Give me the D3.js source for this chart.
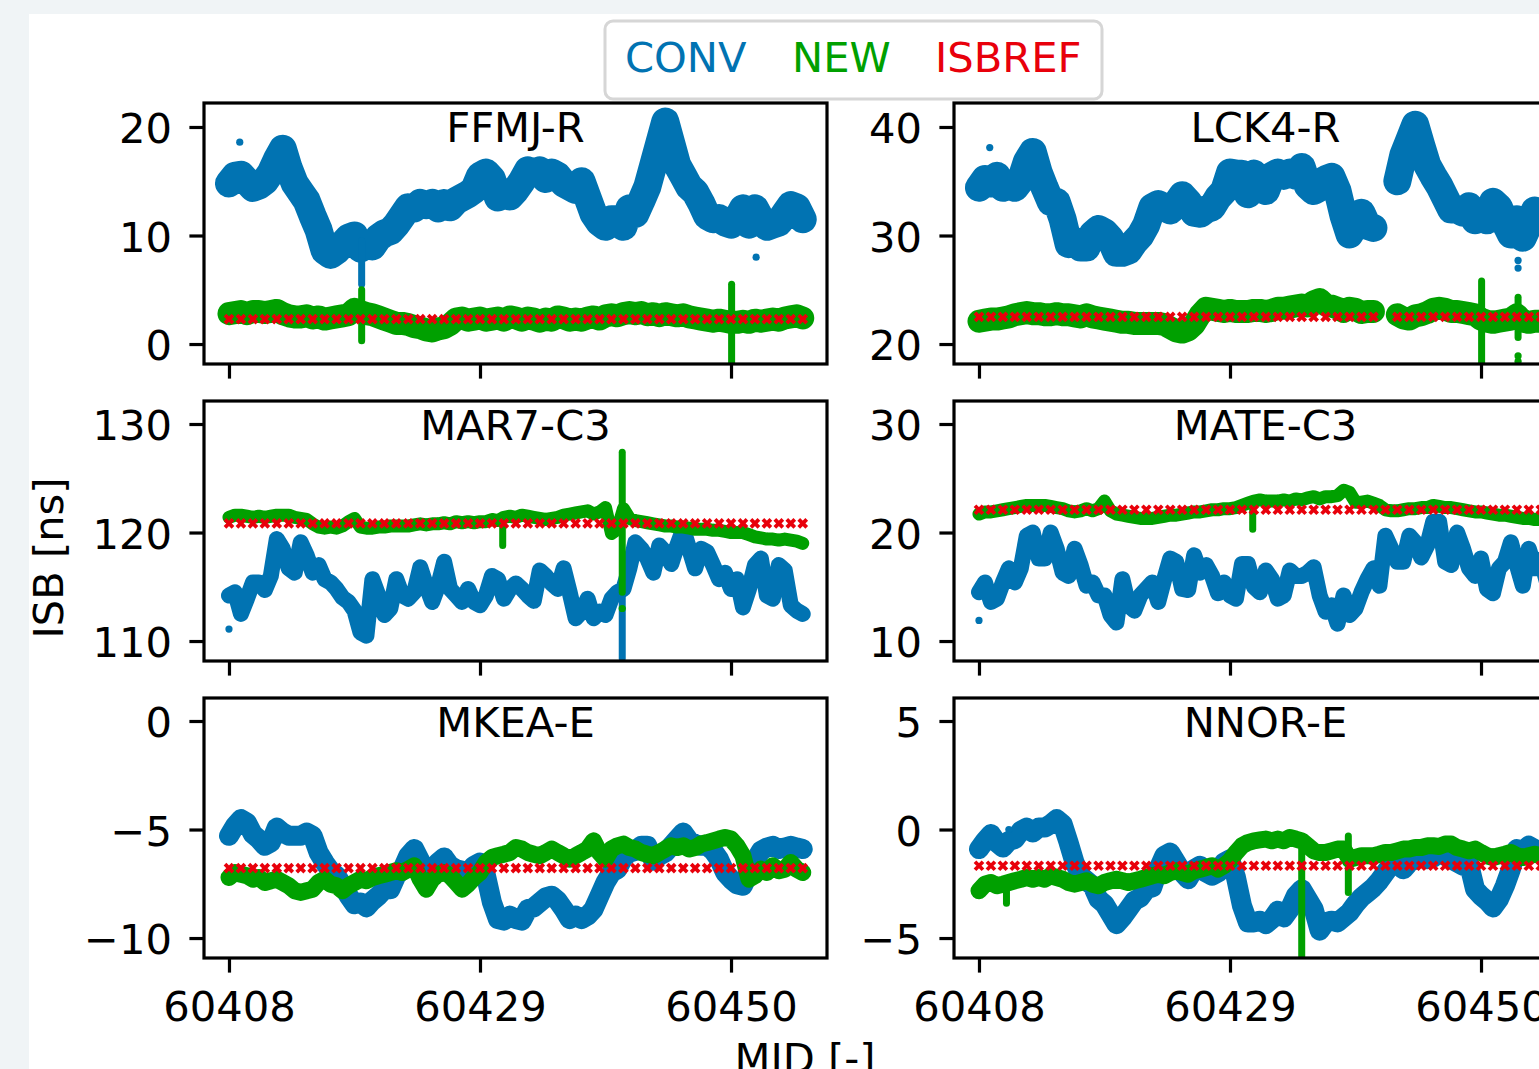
<!DOCTYPE html>
<html lang="en">
<head>
    <meta charset="UTF-8">
    <title>ISB</title>
    <script src="https://cdn.jsdelivr.net/npm/d3@7"></script>
    <style>
        body {
            margin: 0;
            background-color: #f0f4f6;
            overflow: hidden;
        }
        svg {
            display: block;
        }
        text {
            font-family: "DejaVu Sans", sans-serif;
        }
    </style>
</head>
<body>
<svg id="chart" width="1539" height="1069"></svg>
<script>
    // sample grid (MJD) of the plotted series, half a day apart
    const epochs = d3.range(60408, 60456.01, 0.5);
    // ISBREF is plotted once a day
    const refDays = d3.range(60408, 60457, 1);
    const xTicks = [60408, 60429, 60450];

    const stations = ["FFMJ-R", "LCK4-R", "MAR7-C3", "MATE-C3", "MKEA-E", "NNOR-E"];
    const seriesNames = ["CONV", "NEW", "ISBREF"];

    // ---- FFMJ-R ----
    const ffmjConv = [14.8,15.5,15.6,15.0,14.4,14.6,15.0,15.8,17.0,18.0, 16.2,14.8,14.0,13.2,11.8,10.5,8.6,8.2,8.6,9.2,
        9.8,10.0,8.8,9.3,9.0,9.8,10.2,10.4,11.0,11.8, 12.6,12.5,13.0,12.8,13.0,12.5,13.0,12.6,13.2,13.5,
        13.8,14.2,15.5,15.8,15.2,13.5,14.0,13.6,14.2,15.0, 16.0,15.8,16.0,15.2,15.8,15.5,14.8,14.5,14.2,15.0,
        13.5,12.0,11.2,10.8,11.5,11.5,10.8,12.5,12.0,13.2, 14.5,16.5,18.5,20.5,18.5,16.5,15.5,14.5,14.0,13.0,
        11.8,11.5,11.6,11.2,11.0,11.5,12.5,11.0,12.5,11.5, 10.8,11.0,11.2,12.0,12.8,12.6,11.5];
    const ffmjNew = [2.8,2.9,3.0,2.8,3.0,3.0,2.9,3.0,3.1,2.8, 2.6,2.5,2.5,2.6,2.4,2.5,2.3,2.4,2.5,2.6,
        2.7,3.2,3.0,2.8,2.7,2.5,2.3,2.1,1.9,1.9, 1.8,1.6,1.5,1.3,1.2,1.4,1.5,1.8,2.3,2.4,
        2.2,2.3,2.4,2.2,2.3,2.4,2.2,2.5,2.4,2.2, 2.4,2.3,2.1,2.3,2.2,2.5,2.4,2.2,2.3,2.2,
        2.4,2.5,2.3,2.6,2.7,2.6,2.8,2.9,2.8,2.9, 2.7,2.8,2.6,2.8,2.7,2.6,2.7,2.5,2.4,2.3,
        2.2,2.1,2.2,2.1,2.0,2.0,2.1,2.0,2.2,2.1, 2.2,2.3,2.2,2.4,2.5,2.6,2.4];
    const ffmjRef = 2.3;
    // [mjd, low, high, series]
    const ffmjSpikes = [[60419.1, 5.5, 9.5, "CONV"], [60419.1, 0.3, 5.0, "NEW"], [60450.05, -2.5, 5.5, "NEW"]];
    // [mjd, value, series]
    const ffmjDots = [[60408.9, 18.6, "CONV"], [60452.1, 8.0, "CONV"]];

    // ---- LCK4-R ----
    const lck4Conv = [34.4,35.2,34.8,35.5,34.4,34.6,34.4,35.1,36.8,37.7, 35.8,34.4,33.1,33.1,31.5,29.2,29.5,28.9,28.9,30.1,
        30.6,30.3,29.7,28.4,28.4,28.6,29.4,30.0,31.0,32.6, 32.9,32.6,32.3,32.9,33.7,33.1,32.1,32.0,32.4,32.6,
        33.5,34.1,35.8,35.7,35.7,33.8,35.7,35.1,34.1,35.5, 35.8,35.5,35.8,35.5,36.3,34.6,34.1,34.4,35.2,35.4,
        34.1,31.8,30.1,31.0,32.1,30.9,30.7,null,null,null, 35.0,37.4,38.8,40.2,38.3,36.5,35.5,34.6,33.5,32.4,
        32.4,32.1,32.7,31.4,32.1,31.4,33.1,32.6,31.2,30.1, 31.5,29.8,31.0,32.3,32.0,31.5,31.8];
    const lck4New = [22.1,22.2,22.3,22.3,22.4,22.5,22.7,22.8,22.9,22.8, 22.8,22.7,22.7,22.8,22.7,22.7,22.6,22.5,22.7,22.5,
        22.4,22.3,22.2,22.1,22.0,22.0,21.9,21.9,21.9,21.9, 21.9,21.8,21.5,21.2,21.1,21.3,21.8,22.7,23.3,23.2,
        23.1,23.0,23.1,23.0,23.0,23.0,23.1,23.1,23.0,23.1, 23.3,23.3,23.4,23.5,23.6,23.5,23.9,24.1,23.6,23.5,
        23.3,23.0,23.3,23.2,22.9,23.0,23.0,null,null,null, 22.7,22.4,22.3,22.6,22.7,22.9,23.2,23.3,23.2,23.0,
        23.0,22.9,22.8,22.7,22.3,22.1,22.0,22.1,22.2,22.3, 22.7,22.1,22.0,22.1,22.1,22.0,22.1];
    const lck4Ref = 22.5;
    const lck4RefGap = [60442];
    const lck4Spikes = [[60450.05, 17.5, 25.8, "NEW"], [60453.1, 20.6, 24.3, "NEW"]];
    const lck4Dots = [[60408.9, 38.1, "CONV"], [60453.1, 27.7, "CONV"], [60453.1, 27.0, "CONV"],
        [60453.1, 18.9, "NEW"], [60453.1, 18.4, "NEW"]];

    // ---- MAR7-C3 ----
    const mar7Conv = [114.2,114.5,112.5,113.9,115.4,115.4,114.7,116.0,119.4,118.5, 116.7,116.3,119.1,117.9,116.3,117.0,115.7,115.4,114.8,114.0,
        113.6,112.8,110.8,110.5,115.7,114.2,112.4,113.0,115.7,114.2, 113.9,114.5,116.8,115.1,113.6,115.1,117.3,114.8,114.2,113.6,
        114.8,113.6,113.3,114.2,116.0,115.7,113.9,114.8,115.3,114.8, 114.2,113.7,116.5,116.0,115.3,114.8,116.7,114.5,112.1,112.7,
        113.9,112.1,112.7,112.4,113.9,114.5,114.8,116.7,119.1,118.5, 117.6,116.3,118.8,118.2,117.1,118.8,120.3,118.5,116.7,118.5,
        118.2,117.0,115.7,116.3,114.8,115.7,113.1,114.8,117.0,117.6, 114.2,113.9,117.0,116.5,113.3,112.8,112.5];
    const mar7New = [121.4,121.6,121.6,121.5,121.4,121.5,121.4,121.5,121.6,121.6, 121.6,121.4,121.3,121.2,120.8,120.5,120.4,120.5,120.4,120.6,
        121.0,121.3,120.5,120.4,120.4,120.5,120.5,120.6,120.6,120.6, 120.6,120.7,120.8,120.7,120.8,120.8,120.9,120.8,121.0,120.9,
        121.0,120.9,121.0,121.0,121.2,121.1,121.4,121.5,121.4,121.6, 121.5,121.4,121.3,121.2,121.3,121.4,121.6,121.7,121.8,121.9,
        122.0,121.7,121.9,122.3,119.9,120.3,122.2,121.3,121.1,121.0, 120.9,120.8,120.7,120.6,120.6,120.5,120.5,120.4,120.3,120.3,
        120.3,120.2,120.2,120.1,120.0,120.0,120.0,119.8,119.6,119.5, 119.4,119.4,119.3,119.4,119.3,119.2,119.0];
    const mar7Ref = 120.85;
    const mar7Spikes = [[60440.9, 108.4, 115.0, "CONV"], [60440.9, 114.5, 127.4, "NEW"], [60430.9, 118.8, 120.8, "NEW"]];
    const mar7Dots = [[60408.0, 111.1, "CONV"], [60440.9, 113.0, "NEW"]];

    // ---- MATE-C3 ----
    const mateConv = [14.5,15.4,13.6,13.9,15.4,16.7,15.4,16.7,19.7,20.0, 17.6,17.6,20.0,18.5,16.3,16.0,18.5,17.0,15.1,15.4,
        14.2,14.2,12.4,11.7,15.7,13.3,12.8,14.2,14.8,15.4, 13.6,15.7,17.6,17.3,14.8,14.7,17.9,16.3,17.0,16.0,
        14.4,15.4,14.2,13.9,17.1,17.1,15.0,14.5,16.5,15.7, 13.9,14.2,16.5,16.0,16.0,16.3,16.8,14.2,12.7,13.3,
        11.6,14.2,12.4,13.0,14.5,15.7,16.7,15.1,19.7,18.5, 17.3,17.3,19.7,19.1,17.7,18.8,21.0,21.0,17.3,17.0,
        20.0,18.5,16.7,16.0,17.6,14.8,14.4,16.7,17.3,19.1, 17.0,15.1,18.5,16.7,17.5,15.5,14.5];
    const mateNew = [21.7,21.9,21.9,22.0,22.1,22.2,22.3,22.4,22.5,22.5, 22.5,22.5,22.4,22.3,22.2,22.0,21.9,22.0,22.2,22.0,
        22.2,22.9,22.0,21.7,21.6,21.5,21.4,21.3,21.3,21.3, 21.4,21.5,21.6,21.6,21.7,21.8,21.9,21.9,22.0,22.1,
        22.1,22.2,22.2,22.3,22.5,22.7,22.9,23.0,22.9,22.9, 22.9,23.0,22.9,23.1,23.0,23.2,23.3,23.1,23.3,23.3,
        23.4,23.9,23.7,22.8,22.8,22.9,22.7,22.5,22.1,22.0, 22.0,22.1,22.2,22.2,22.3,22.3,22.5,22.4,22.3,22.3,
        22.2,22.1,22.0,21.9,21.9,21.8,21.7,21.6,21.6,21.5, 21.4,21.3,21.3,21.2,21.2,21.2,21.1];
    const mateRef = 22.1;
    const mateSpikes = [[60430.9, 20.3, 22.3, "NEW"]];
    const mateDots = [[60408.0, 11.9, "CONV"]];

    // ---- MKEA-E ----
    const mkeaConv = [-5.29,-4.83,-4.52,-4.68,-5.21,-5.44,-5.75,-5.60,-4.91,-5.14, -5.29,-5.29,-5.29,-5.14,-5.29,-6.06,-6.52,-6.90,-7.13,-7.59,
        -8.05,-8.44,-8.36,-8.59,-8.28,-8.05,-7.75,-7.75,-7.13,-6.83, -6.21,-5.90,-6.44,-6.90,-7.13,-6.52,-6.29,-6.67,-6.83,-6.90,
        -6.98,-6.67,-6.52,-7.13,-8.36,-9.13,-9.20,-8.97,-9.13,-9.20, -8.67,-8.59,-8.36,-8.13,-8.05,-8.28,-8.67,-9.13,-8.97,-9.13,
        -8.97,-8.67,-8.05,-7.44,-6.98,-6.83,-6.29,-6.06,-5.98,-5.75, -5.75,-6.44,-6.21,-6.06,-5.75,-5.44,-5.14,-5.52,-5.67,-5.75,
        -5.75,-5.98,-6.37,-6.98,-7.29,-7.52,-7.59,-6.98,-6.44,-5.98, -5.83,-5.75,-5.90,-5.83,-5.75,-5.83,-5.90];
    const mkeaNew = [-7.21,-6.98,-7.06,-7.13,-7.29,-7.21,-7.44,-7.36,-7.29,-7.44, -7.59,-7.82,-7.90,-7.82,-7.75,-7.44,-7.29,-7.52,-7.59,-7.82,
        -7.59,-7.44,-7.29,-7.36,-7.21,-7.13,-7.06,-6.98,-6.90,-6.98, -6.83,-6.67,-7.29,-7.75,-7.29,-7.06,-6.98,-7.13,-7.44,-7.75,
        -7.52,-7.21,-6.98,-6.52,-6.29,-6.21,-6.14,-6.06,-5.83,-5.90, -6.06,-6.14,-6.21,-6.06,-5.90,-6.06,-6.21,-6.37,-6.21,-6.06,
        -5.90,-5.52,-6.06,-6.37,-5.90,-5.75,-5.67,-5.83,-5.90,-6.06, -6.14,-6.21,-6.06,-5.90,-5.75,-5.83,-5.75,-5.90,-5.83,-5.67,
        -5.60,-5.52,-5.44,-5.37,-5.44,-5.75,-6.21,-7.29,-7.13,-6.83, -6.98,-6.67,-6.90,-6.83,-6.52,-6.83,-6.98];
    const mkeaRef = -6.78;
    const mkeaSpikes = [];
    const mkeaDots = [];

    // ---- NNOR-E ----
    const nnorConv = [-0.90,-0.52,-0.21,-0.60,-0.83,-0.52,-0.44,-0.06,0.09,-0.14, 0.09,0.09,0.25,0.48,0.25,-0.60,-1.52,-2.13,-2.36,-2.59,
        -3.21,-3.44,-3.90,-4.36,-4.05,-3.67,-3.28,-3.13,-2.75,-2.67, -1.83,-1.21,-1.06,-1.52,-1.98,-2.29,-1.83,-1.67,-1.98,-2.13,
        -1.98,-1.52,-1.37,-2.21,-3.51,-4.28,-4.28,-4.20,-4.36,-4.13, -3.74,-4.05,-3.67,-3.05,-2.75,-3.21,-3.67,-4.66,-4.28,-4.20,
        -4.28,-4.05,-3.82,-3.44,-3.13,-2.90,-2.67,-2.36,-1.98,-1.60, -1.60,-1.83,-1.52,-1.37,-1.21,-1.37,-1.29,-1.06,-1.21,-1.37,
        -1.52,-1.67,-1.60,-2.75,-3.05,-3.28,-3.59,-3.21,-2.59,-1.83, -0.90,-0.98,-0.75,-0.90,-1.00,-0.80,-1.00];
    const nnorNew = [-2.82,-2.52,-2.44,-2.59,-2.52,-2.44,-2.36,-2.29,-2.21,-2.29, -2.21,-2.29,-2.13,-2.21,-2.29,-2.44,-2.52,-2.44,-2.36,-2.52,
        -2.59,-2.44,-2.36,-2.29,-2.36,-2.44,-2.36,-2.29,-2.21,-2.13, -2.06,-2.13,-1.98,-1.90,-1.98,-2.06,-1.90,-1.83,-1.75,-1.67,
        -1.83,-1.67,-1.44,-1.06,-0.75,-0.60,-0.52,-0.48,-0.44,-0.52, -0.44,-0.52,-0.37,-0.44,-0.52,-0.75,-0.98,-1.06,-1.06,-0.98,
        -0.90,-0.90,-1.37,-1.29,-1.21,-1.21,-1.21,-1.14,-1.06,-1.06, -0.98,-0.90,-0.90,-0.83,-0.83,-0.75,-0.75,-0.78,-0.67,-0.67,
        -0.83,-0.90,-0.98,-0.90,-1.06,-1.21,-1.29,-1.21,-1.14,-1.06, -1.21,-1.29,-1.21,-1.14,-1.20,-1.20,-1.20];
    const nnorRef = -1.67;
    const nnorSpikes = [[60435.0, -6.5, -0.9, "NEW"], [60438.9, -2.9, -0.3, "NEW"], [60410.3, -3.4, -2.4, "NEW"]];
    const nnorDots = [[60410.5, 0.0, "CONV"]];

    const colors = {CONV: "#0173b2", NEW: "#00a000", ISBREF: "#e8000b"};

    // layout (pixels) and axis limits
    const fontSize = 41.67;
    const panelW = 623;
    const colLeft = [204, 954];
    const rowTop = [103, 401, 698];
    const rowH = [261, 260, 260];
    const xLim = [60405.91, 60458.03];

    const panels = [
        {name: stations[0], conv: ffmjConv, neu: ffmjNew, ref: ffmjRef, gap: [], spikes: ffmjSpikes, dots: ffmjDots,
            yTicks: [0, 10, 20], yLim: [-1.84, 22.21], col: 0, row: 0, sw: [28, 23]},
        {name: stations[1], conv: lck4Conv, neu: lck4New, ref: lck4Ref, gap: lck4RefGap, spikes: lck4Spikes, dots: lck4Dots,
            yTicks: [20, 30, 40], yLim: [18.16, 42.21], col: 1, row: 0, sw: [28, 23]},
        {name: stations[2], conv: mar7Conv, neu: mar7New, ref: mar7Ref, gap: [], spikes: mar7Spikes, dots: mar7Dots,
            yTicks: [110, 120, 130], yLim: [108.16, 132.12], col: 0, row: 1, sw: [16, 13]},
        {name: stations[3], conv: mateConv, neu: mateNew, ref: mateRef, gap: [], spikes: mateSpikes, dots: mateDots,
            yTicks: [10, 20, 30], yLim: [8.16, 32.12], col: 1, row: 1, sw: [16, 13]},
        {name: stations[4], conv: mkeaConv, neu: mkeaNew, ref: mkeaRef, gap: [], spikes: mkeaSpikes, dots: mkeaDots,
            yTicks: [-10, -5, 0], yLim: [-10.92, 1.06], col: 0, row: 2, sw: [20, 17]},
        {name: stations[5], conv: nnorConv, neu: nnorNew, ref: nnorRef, gap: [], spikes: nnorSpikes, dots: nnorDots,
            yTicks: [-5, 0, 5], yLim: [-5.92, 6.06], col: 1, row: 2, sw: [20, 17]}
    ];

    const svg = d3.select("#chart");

    // figure background
    svg.append("rect")
        .attr("x", 29).attr("y", 14)
        .attr("width", 1600).attr("height", 1100)
        .attr("fill", "white");

    const x = d3.scaleLinear().domain(xLim).range([0, panelW]);
    const fmt = d3.format("d");

    panels.forEach((p, k) => {
        const h = rowH[p.row];
        const y = d3.scaleLinear().domain(p.yLim).range([h, 0]);
        const g = svg.append("g")
            .attr("transform", `translate(${colLeft[p.col]},${rowTop[p.row]})`);

        g.append("clipPath").attr("id", "clip" + k)
            .append("rect").attr("width", panelW).attr("height", h);
        const plot = g.append("g").attr("clip-path", `url(#clip${k})`);

        const line = d3.line()
            .defined(d => d != null)
            .x((d, i) => x(epochs[i]))
            .y(d => y(d));

        const drawSeries = (values, name, width) => {
            plot.append("path")
                .datum(values)
                .attr("d", line)
                .attr("fill", "none")
                .attr("stroke", colors[name])
                .attr("stroke-width", width)
                .attr("stroke-linejoin", "round")
                .attr("stroke-linecap", "round");

            plot.selectAll(null)
                .data(p.spikes.filter(s => s[3] === name))
                .join("line")
                .attr("x1", d => x(d[0])).attr("x2", d => x(d[0]))
                .attr("y1", d => y(d[1])).attr("y2", d => y(d[2]))
                .attr("stroke", colors[name])
                .attr("stroke-width", 7)
                .attr("stroke-linecap", "round");

            plot.selectAll(null)
                .data(p.dots.filter(s => s[2] === name))
                .join("circle")
                .attr("cx", d => x(d[0]))
                .attr("cy", d => y(d[1]))
                .attr("r", 3.6)
                .attr("fill", colors[name]);
        };

        drawSeries(p.conv, "CONV", p.sw[0]);
        drawSeries(p.neu, "NEW", p.sw[1]);

        // ISBREF crosses
        plot.selectAll(null)
            .data(refDays.filter(d => !p.gap.includes(d)))
            .join("path")
            .attr("transform", d => `translate(${x(d)},${y(p.ref)})`)
            .attr("d", "M-4,-4L4,4M-4,4L4,-4")
            .attr("stroke", colors.ISBREF)
            .attr("stroke-width", 3.8)
            .attr("fill", "none");

        // axes
        const xAxis = d3.axisBottom(x)
            .tickValues(xTicks)
            .tickSize(14.6)
            .tickSizeOuter(0)
            .tickPadding(14.6)
            .tickFormat(p.row === 2 ? fmt : () => "");
        const xg = g.append("g").attr("transform", `translate(0,${h})`).call(xAxis);
        xg.selectAll("text").attr("dy", "0.81em");

        const yAxis = d3.axisLeft(y)
            .tickValues(p.yTicks)
            .tickSize(14.6)
            .tickSizeOuter(0)
            .tickPadding(17.4)
            .tickFormat(fmt);
        const yg = g.append("g").call(yAxis);
        yg.selectAll("text").attr("dy", "0.38em");

        [xg, yg].forEach(a => {
            a.select(".domain").remove();
            a.selectAll(".tick line").attr("stroke", "black").attr("stroke-width", 3.2);
            a.selectAll(".tick text")
                .attr("fill", "black")
                .style("font-family", "'DejaVu Sans', sans-serif")
                .style("font-size", fontSize + "px");
        });

        // frame
        g.append("rect")
            .attr("width", panelW).attr("height", h)
            .attr("fill", "none")
            .attr("stroke", "black")
            .attr("stroke-width", 3.2);

        // title inside the axes
        g.append("text")
            .attr("x", panelW / 2).attr("y", 39)
            .attr("text-anchor", "middle")
            .style("font-size", fontSize + "px")
            .text(p.name);
    });

    // axis labels
    svg.append("text")
        .attr("transform", "translate(63,558) rotate(-90)")
        .attr("text-anchor", "middle")
        .style("font-size", fontSize + "px")
        .text("ISB [ns]");
    svg.append("text")
        .attr("x", 805).attr("y", 1073)
        .attr("text-anchor", "middle")
        .style("font-size", fontSize + "px")
        .text("MJD [-]");

    // legend
    const legend = svg.append("g");
    legend.append("rect")
        .attr("x", 605).attr("y", 21)
        .attr("width", 497).attr("height", 78)
        .attr("rx", 8)
        .attr("fill", "white")
        .attr("stroke", "#d6d6d6")
        .attr("stroke-width", 3);
    const legendX = [625, 792, 935];
    legend.selectAll(null)
        .data(seriesNames)
        .join("text")
        .attr("x", (d, i) => legendX[i])
        .attr("y", 72)
        .attr("fill", d => colors[d])
        .style("font-size", fontSize + "px")
        .text(d => d);
</script>
</body>
</html>
